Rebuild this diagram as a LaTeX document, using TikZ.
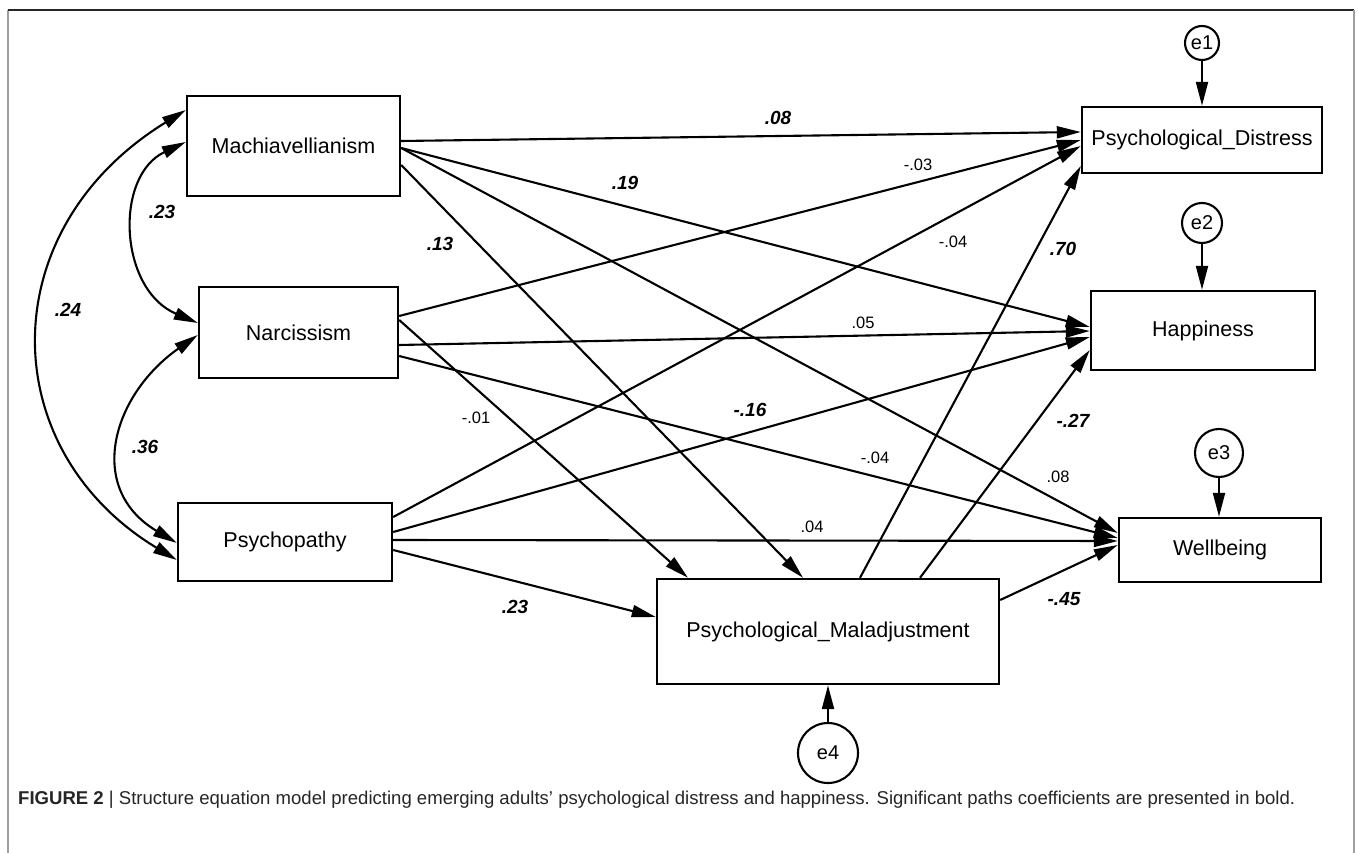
\documentclass[tikz,border=0pt]{standalone}
\usepackage{fontspec}
\setmainfont{Liberation Sans}
\usepackage{graphicx}
\usetikzlibrary{arrows.meta,calc}
\begin{document}
\begin{tikzpicture}[x=1pt,y=-1pt,
  box/.style={draw, line width=2.4pt, inner sep=0pt, font=\fontsize{21.5}{24}\selectfont},
  err/.style={draw, circle, line width=2.1pt, inner sep=0pt, font=\fontsize{20}{22}\selectfont},
  arr/.style={line width=2.1pt, -{Triangle[length=24pt,width=12pt]}},
  cov/.style={line width=2.1pt, {Triangle[length=24pt,width=12pt]}-{Triangle[length=24pt,width=12pt]}},
  sig/.style={font=\fontsize{19}{22}\selectfont\bfseries\itshape},
  ns/.style={font=\fontsize{16.5}{19}\selectfont}]
\useasboundingbox (0,0) rectangle (1358,853);
\fill[white] (0,0) rectangle (1358,853);
% frame
\draw[gray!75, line width=1.6pt] (8,853) -- (8,10);
\draw[black!85, line width=1.6pt] (8,10) -- (1354,10);
\draw[gray!75, line width=1.6pt] (1354,10) -- (1354,853);

% nodes
\node[box, minimum width=213pt, minimum height=100pt] (mach) at (293.5,146) {Machiavellianism};
\node[box, minimum width=199pt, minimum height=91pt] (narc) at (298.5,332.5) {Narcissism};
\node[box, minimum width=214pt, minimum height=78pt] (psy) at (285,542) {Psychopathy};
\node[box, minimum width=240pt, minimum height=66pt] (dist) at (1202,140) {Psychological\_Distress};
\node[box, minimum width=224pt, minimum height=79pt] (hap) at (1203,330.5) {Happiness};
\node[box, minimum width=202pt, minimum height=64pt] (well) at (1220,550) {Wellbeing};
\node[box, minimum width=342pt, minimum height=105pt] (mal) at (828,631.5) {Psychological\_Maladjustment};
\node[err, minimum size=34pt] (e1) at (1202,43) {e1};
\node[err, minimum size=40pt] (e2) at (1202,223) {e2};
\node[err, minimum size=48pt] (e3) at (1219,453) {e3};
\node[err, minimum size=60pt] (e4) at (828,753) {e4};

% error arrows
\draw[arr] (e1.south) -- (e1.south |- dist.north);
\draw[arr] (e2.south) -- (e2.south |- hap.north);
\draw[arr] (e3.south) -- (e3.south |- well.north);
\draw[arr] (e4.north) -- (e4.north |- mal.south);

% Machiavellianism paths
\draw[arr] ($(mach.east)+(0,-5)$) -- ($(dist.west)+(0,-8)$);
\draw[arr] ($(mach.east)+(0,2)$) -- ($(hap.west)+(0,-3.5)$);
\draw[arr] ($(mach.east)+(0,2)$) -- ($(well.west)+(0,-17)$);
\draw[arr] ($(mach.east)+(0,19)$) -- ($(mal.north)+(-25,0)$);
% Narcissism paths
\draw[arr] ($(narc.east)+(0,-16.5)$) -- ($(dist.west)+(0,0)$);
\draw[arr] ($(narc.east)+(0,-12.5)$) -- ($(mal.north)+(-140,0)$);
\draw[arr] ($(narc.east)+(0,12.5)$) -- ($(hap.west)+(0,0.5)$);
\draw[arr] ($(narc.east)+(0,23.5)$) -- ($(well.west)+(0,-12)$);
% Psychopathy paths
\draw[arr] ($(psy.east)+(0,-25)$) -- ($(dist.west)+(0,6)$);
\draw[arr] ($(psy.east)+(0,-10)$) -- ($(hap.west)+(0,6.5)$);
\draw[arr] ($(psy.east)+(0,-2)$) -- ($(well.west)+(0,-9)$);
\draw[arr] ($(psy.east)+(0,8)$) -- ($(mal.west)+(0,-14.5)$);
% Maladjustment paths
\draw[arr] ($(mal.north)+(32,0)$) -- ($(dist.west)+(0,26)$);
\draw[arr] ($(mal.north)+(92,0)$) -- ($(hap.west)+(0,19.5)$);
\draw[arr] ($(mal.east)+(0,-31.5)$) -- ($(well.west)+(0,-5)$);

% covariances
\draw[cov] ($(mach.west)+(0,-4)$) .. controls ($(mach.west)+(-72,30)$) and ($(narc.west)+(-79,-43)$) .. ($(narc.west)+(0,-9.5)$);
\draw[cov] ($(narc.west)+(0,2.5)$) .. controls ($(narc.west)+(-85,62)$) and ($(psy.west)+(-92,-54)$) .. ($(psy.west)+(0,1)$);
\draw[cov] ($(mach.west)+(0,-36)$) .. controls ($(mach.west)+(-195,84)$) and ($(psy.west)+(-182,-92)$) .. ($(psy.west)+(0,18)$);

% labels
\node[sig] (l1) at (778,118) {.08};
\node[sig] (l2) at (625,183) {.19};
\node[sig] (l3) at (440,244) {.13};
\node[ns] (l4) at (863,323) {.05};
\node[ns] (l5) at (918,165) {-.03};
\node[ns] (l6) at (953,242) {-.04};
\node[sig] (l7) at (1063,249) {.70};
\node[ns] (l8) at (476,418) {-.01};
\node[sig] (l9) at (750,410) {-.16};
\node[ns] (l10) at (812,527) {.04};
\node[sig] (l11) at (515,607) {.23};
\node[ns] (l12) at (875,458) {-.04};
\node[sig] (l13) at (1073,421) {-.27};
\node[ns] (l14) at (1058,477) {.08};
\node[sig] (l15) at (1064,599) {-.45};
\node[sig] (l16) at (162,212) {.23};
\node[sig] (l17) at (68,310) {.24};
\node[sig] (l18) at (145,447) {.36};

% caption
\node[anchor=west, inner sep=0pt, text=black!85] (cap) at (18,800) {\resizebox{1277pt}{!}{\fontsize{16}{19}\selectfont\textbf{FIGURE 2} | Structure equation model predicting emerging adults' psychological distress and happiness. Significant paths coefficients are presented in bold.}};
\end{tikzpicture}
\end{document}
